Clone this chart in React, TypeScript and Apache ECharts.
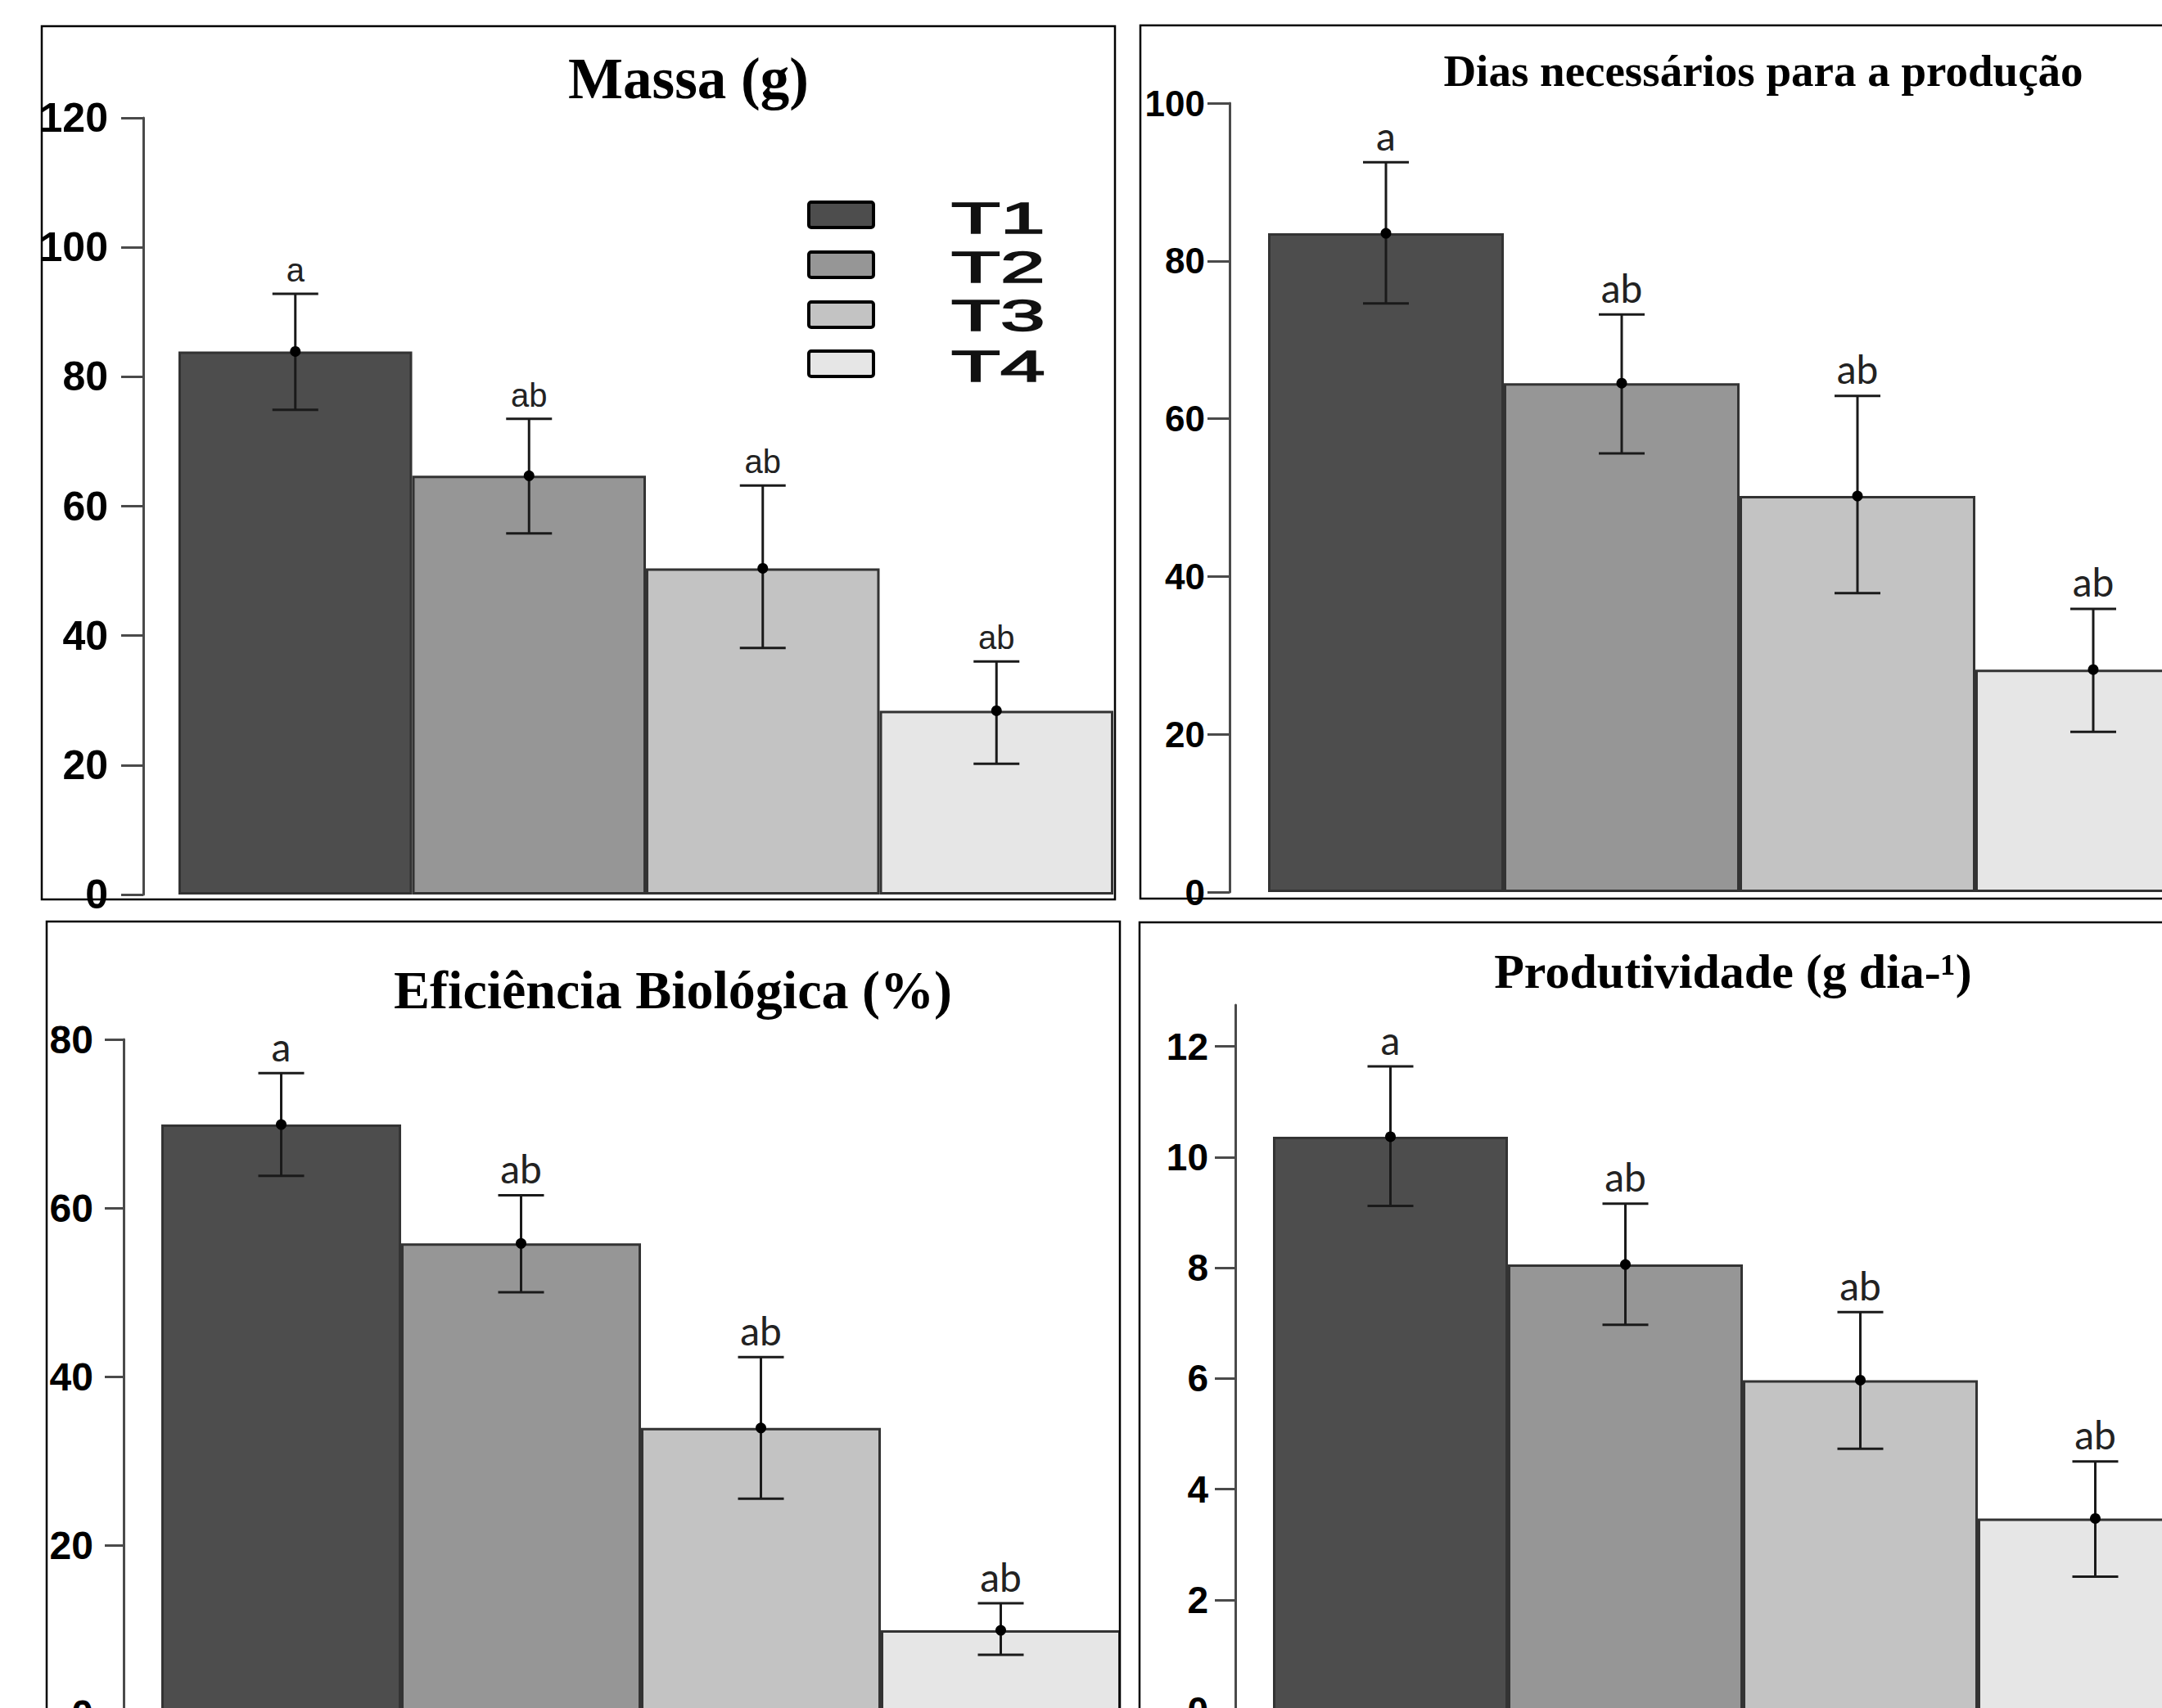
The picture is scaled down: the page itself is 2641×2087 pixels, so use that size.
import React, { useEffect, useRef } from 'react';
import * as echarts from 'echarts';

const categories = ['T1', 'T2', 'T3', 'T4'];
const barColors = ['#4d4d4d', '#969696', '#c3c3c3', '#e6e6e6'];
const letters = ['a', 'ab', 'ab', 'ab'];

const massaMean = [83.9, 64.7, 50.4, 28.4];
const massaUpper = [92.8, 73.5, 63.2, 36.0];
const massaLower = [74.9, 55.8, 38.1, 20.2];

const diasMean = [83.5, 64.5, 50.2, 28.2];
const diasUpper = [92.5, 73.2, 62.9, 35.9];
const diasLower = [74.6, 55.6, 37.9, 20.3];

const eficMean = [69.9, 55.8, 33.9, 9.9];
const eficUpper = [76.0, 61.5, 42.3, 13.1];
const eficLower = [63.8, 50.0, 25.5, 7.0];

const prodMean = [10.37, 8.06, 5.97, 3.47];
const prodUpper = [11.64, 9.16, 7.2, 4.5];
const prodLower = [9.12, 6.97, 4.73, 2.42];

const massaTicks = [0, 20, 40, 60, 80, 100, 120];
const diasTicks = [0, 20, 40, 60, 80, 100];
const eficTicks = [0, 20, 40, 60, 80];
const prodTicks = [0, 2, 4, 6, 8, 10, 12];

const titles = ['Massa (g)', 'Dias necessários para a produção', 'Eficiência Biológica (%)', 'Produtividade (g dia-¹)'];

// The reference crops the right and bottom panels at the page edge, so the
// canvas is drawn larger than the 2641x2087 window and the overflow is hidden.
const W = 2780;
const H = 2220;

const panels = [
  {
    title: titles[0], mean: massaMean, upper: massaUpper, lower: massaLower, ticks: massaTicks, max: 120,
    box: [51, 32, 1311, 1067], grid: { left: 218, width: 1142, top: 144, height: 949 },
    offset: 43, tickLen: 27, labelMargin: 43, labelSize: 50,
    titleX: 841, titleY: 96, titleSize: 71, titleWeight: 'bold',
    letterFont: 'Liberation Sans, Arial, sans-serif', letterSize: 40,
  },
  {
    title: titles[1], mean: diasMean, upper: diasUpper, lower: diasLower, ticks: diasTicks, max: 100,
    box: [1393, 31, 1320, 1067], grid: { left: 1549, width: 1152, top: 126, height: 964 },
    offset: 47, tickLen: 27, labelMargin: 30, labelSize: 44,
    titleX: 2154, titleY: 86, titleSize: 55, titleWeight: 'bold',
    letterFont: 'Lato, "Open Sans", sans-serif', letterSize: 48,
  },
  {
    title: titles[2], mean: eficMean, upper: eficUpper, lower: eficLower, ticks: eficTicks, max: 80,
    box: [57, 1126, 1311, 1040], grid: { left: 197, width: 1172, top: 1270, height: 824 },
    offset: 46, tickLen: 23, labelMargin: 37, labelSize: 48,
    titleX: 822, titleY: 1209, titleSize: 66, titleWeight: 'bold',
    letterFont: 'Lato, "Open Sans", sans-serif', letterSize: 48,
  },
  {
    title: titles[3], mean: prodMean, upper: prodUpper, lower: prodLower, ticks: prodTicks, max: 12.75,
    box: [1392, 1127, 1320, 1040], grid: { left: 1555, width: 1148, top: 1228, height: 862 },
    offset: 46, tickLen: 25, labelMargin: 33, labelSize: 46,
    titleX: 2117, titleY: 1187, titleSize: 60, titleWeight: 'bold',
    letterFont: 'Lato, "Open Sans", sans-serif', letterSize: 48,
  },
];

const legendRectY = [247, 308, 369, 429];
const legendTextY = [267, 327, 386, 448];

function buildOption() {
  const grid: any[] = [];
  const xAxis: any[] = [];
  const yAxis: any[] = [];
  const series: any[] = [];
  const title: any[] = [];
  const graphic: any[] = [];

  panels.forEach((p, i) => {
    grid.push({ ...p.grid, containLabel: false });
    xAxis.push({ type: 'category', gridIndex: i, data: categories, show: false });
    yAxis.push({
      type: 'value', gridIndex: i, min: 0, max: p.max, position: 'left', offset: p.offset,
      interval: p.ticks[1] - p.ticks[0],
      axisLine: { show: true, lineStyle: { color: '#4a4a4a', width: 3 } },
      axisTick: { show: true, length: p.tickLen, lineStyle: { color: '#4a4a4a', width: 3 }, customValues: p.ticks },
      axisLabel: {
        margin: p.labelMargin, fontSize: p.labelSize, fontWeight: 'bold', color: '#000',
        fontFamily: 'Liberation Sans, Arial, sans-serif', customValues: p.ticks,
      },
      splitLine: { show: false },
    });
    series.push({
      type: 'bar', xAxisIndex: i, yAxisIndex: i, barWidth: '100%', z: 2,
      data: p.mean.map((v, j) => ({ value: v, itemStyle: { color: barColors[j] } })),
      itemStyle: { borderColor: '#333', borderWidth: 3 },
      silent: true,
    });
    const letterFont = p.letterFont;
    const letterSize = p.letterSize;
    series.push({
      type: 'custom', xAxisIndex: i, yAxisIndex: i, silent: true, z: 10,
      data: p.mean.map((m, j) => [j, p.lower[j], p.upper[j], m]),
      renderItem: (params: any, api: any) => {
        const idx = api.value(0);
        const lo = api.coord([idx, api.value(1)]);
        const hi = api.coord([idx, api.value(2)]);
        const mid = api.coord([idx, api.value(3)]);
        const x = hi[0];
        const cw = 28;
        const st = { stroke: '#1a1a1a', lineWidth: 3 };
        return {
          type: 'group',
          children: [
            { type: 'line', shape: { x1: x, y1: hi[1], x2: x, y2: lo[1] }, style: st },
            { type: 'line', shape: { x1: x - cw, y1: hi[1], x2: x + cw, y2: hi[1] }, style: st },
            { type: 'line', shape: { x1: x - cw, y1: lo[1], x2: x + cw, y2: lo[1] }, style: st },
            { type: 'circle', shape: { cx: x, cy: mid[1], r: 6.5 }, style: { fill: '#000' } },
            {
              type: 'text', x, y: hi[1] - 9,
              style: {
                text: letters[params.dataIndex], align: 'center', verticalAlign: 'bottom',
                fontSize: letterSize, fontFamily: letterFont, fill: '#222',
              },
            },
          ],
        };
      },
    });
    title.push({
      text: p.title, left: p.titleX, top: p.titleY - p.titleSize / 2, textAlign: 'center', padding: 0,
      textStyle: { fontFamily: 'Liberation Serif, Times New Roman, serif', fontWeight: p.titleWeight, fontSize: p.titleSize, color: '#000', lineHeight: p.titleSize },
    });
    graphic.push({
      type: 'rect', shape: { x: p.box[0], y: p.box[1], width: p.box[2], height: p.box[3] },
      style: { fill: 'none', stroke: '#000', lineWidth: 2.5 }, z: 100, silent: true,
    });
  });

  categories.forEach((c, j) => {
    graphic.push({
      type: 'rect', shape: { x: 988, y: legendRectY[j], width: 79, height: 31, r: 3 },
      style: { fill: barColors[j], stroke: '#000', lineWidth: 4 }, z: 100,
    });
    graphic.push({
      type: 'text', x: 1162, y: legendTextY[j], scaleX: 1.85, scaleY: 1,
      style: {
        text: c, fontSize: 53, fontFamily: 'Liberation Sans, Arial, sans-serif', fill: '#111',
        stroke: '#111', lineWidth: 1.6, align: 'left', verticalAlign: 'middle',
      },
      z: 100,
    });
  });

  return { animation: false, backgroundColor: '#fff', grid, xAxis, yAxis, series, title, graphic };
}

export default function App() {
  const ref = useRef<HTMLDivElement>(null);
  useEffect(() => {
    document.body.style.margin = '0';
    document.body.style.overflow = 'hidden';
    document.documentElement.style.overflow = 'hidden';
    const chart = echarts.init(ref.current as HTMLDivElement, undefined, { renderer: 'svg', width: W, height: H });
    chart.setOption(buildOption() as any);
    return () => chart.dispose();
  }, []);
  return (
    <div style={{ position: 'fixed', left: 0, top: 0, width: 2641, height: 2087, overflow: 'hidden', background: '#fff' }}>
      <div ref={ref} style={{ position: 'absolute', left: 0, top: 0, width: W, height: H }} />
    </div>
  );
}
